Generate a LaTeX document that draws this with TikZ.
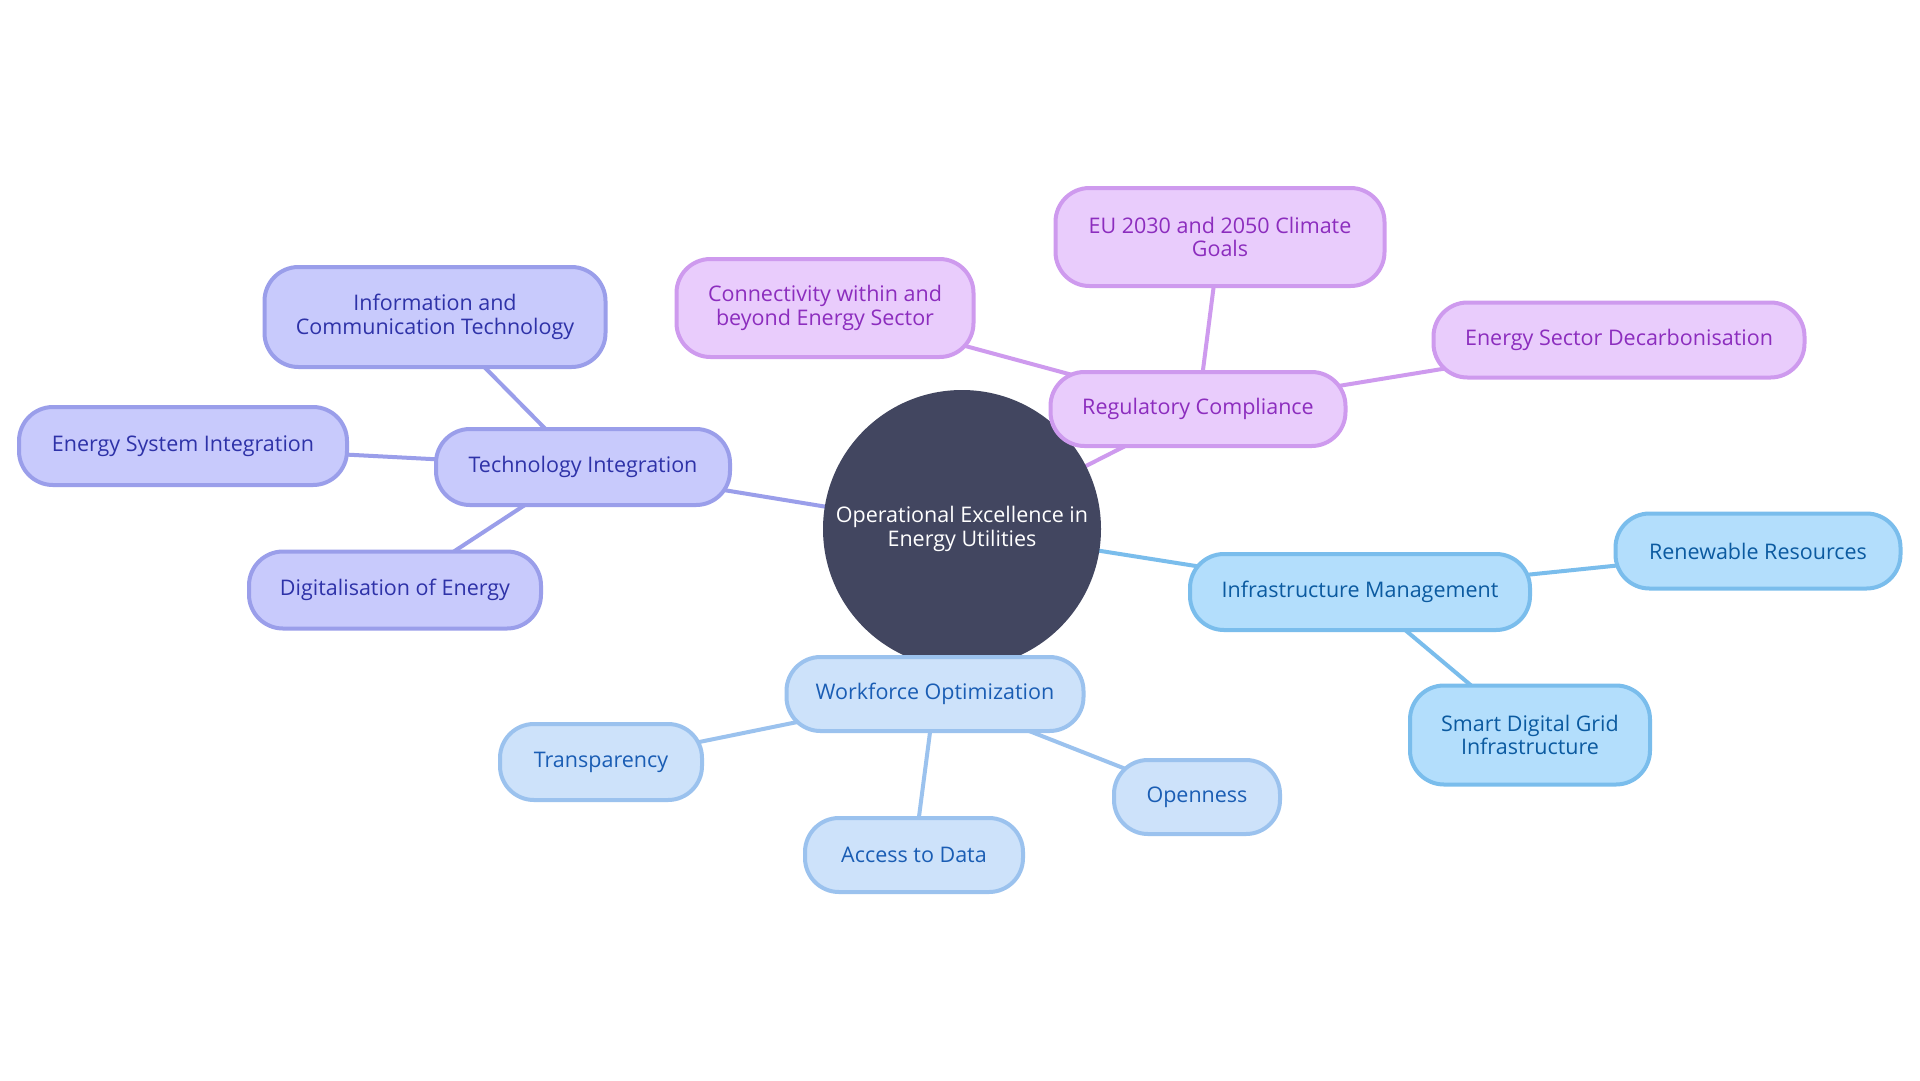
\documentclass[tikz,border=0pt]{standalone}
\usepackage{fontspec}
\setmainfont{Open Sans}
\usetikzlibrary{backgrounds}
\definecolor{core}{HTML}{424660}
\definecolor{tfill}{HTML}{C8CAFC}\definecolor{tline}{HTML}{9A9EEA}\definecolor{ttext}{HTML}{2E32A8}
\definecolor{rfill}{HTML}{E9CCFC}\definecolor{rline}{HTML}{CE9AEE}\definecolor{rtext}{HTML}{8C2DBE}
\definecolor{ifill}{HTML}{B3DEFC}\definecolor{iline}{HTML}{7ABDEC}\definecolor{itext}{HTML}{0B5AA0}
\definecolor{wfill}{HTML}{CDE2FA}\definecolor{wline}{HTML}{9BC2EE}\definecolor{wtext}{HTML}{1A5DB4}
\begin{document}
\begin{tikzpicture}[x=1pt,y=-1pt,
  box/.style={draw, line width=4pt, rounded corners=34pt, align=center,
    font=\fontsize{21.5}{23.5}\selectfont, inner sep=0pt},
  tbox/.style={box, fill=tfill, draw=tline, text=ttext},
  rbox/.style={box, fill=rfill, draw=rline, text=rtext},
  ibox/.style={box, fill=ifill, draw=iline, text=itext},
  wbox/.style={box, fill=wfill, draw=wline, text=wtext},
  link/.style={line width=4pt}]
\useasboundingbox (0,0) rectangle (1920,1080);
\node[circle, fill=core, text=white, minimum size=278pt, inner sep=0pt, align=center,
  font=\fontsize{21.5}{23.5}\selectfont] (core) at (962,529) {Operational Excellence in\\Energy Utilities};

\node[tbox, minimum width=294pt, minimum height=76pt] (tech) at (583,467) {Technology Integration};
\node[tbox, minimum width=341pt, minimum height=100pt] (ict) at (435,317) {Information and\\Communication Technology};
\node[tbox, minimum width=328pt, minimum height=78pt] (esi) at (183,446) {Energy System Integration};
\node[tbox, minimum width=292pt, minimum height=77pt] (dig) at (395,590) {Digitalisation of Energy};

\node[rbox, minimum width=295pt, minimum height=74pt] (reg) at (1198,409) {Regulatory Compliance};
\node[rbox, minimum width=329pt, minimum height=98pt] (eu) at (1220,237) {EU 2030 and 2050 Climate\\Goals};
\node[rbox, minimum width=297pt, minimum height=98pt] (conn) at (825,308) {Connectivity within and\\beyond Energy Sector};
\node[rbox, minimum width=371pt, minimum height=75pt] (dec) at (1619,340) {Energy Sector Decarbonisation};

\node[ibox, minimum width=340pt, minimum height=76pt] (infra) at (1360,592) {Infrastructure Management};
\node[ibox, minimum width=285pt, minimum height=75pt] (ren) at (1758,551) {Renewable Resources};
\node[ibox, minimum width=240pt, minimum height=99pt] (grid) at (1530,735) {Smart Digital Grid\\Infrastructure};

\node[wbox, minimum width=297pt, minimum height=74pt] (work) at (935,694) {Workforce Optimization};
\node[wbox, minimum width=202pt, minimum height=76pt] (trans) at (601,762) {Transparency};
\node[wbox, minimum width=218pt, minimum height=74pt] (acc) at (914,855) {Access to Data};
\node[wbox, minimum width=166pt, minimum height=74pt] (open) at (1197,797) {Openness};

\begin{pgfonlayer}{background}
\fill[white] (0,0) rectangle (1920,1080);
\draw[link, tline] (core.center) -- (tech.center);
\draw[link, tline] (tech.center) -- (ict.center);
\draw[link, tline] (tech.center) -- (esi.center);
\draw[link, tline] (tech.center) -- (dig.center);
\draw[link, rline] (core.center) -- (reg.center);
\draw[link, rline] (reg.center) -- (eu.center);
\draw[link, rline] (reg.center) -- (conn.center);
\draw[link, rline] (reg.center) -- (dec.center);
\draw[link, iline] (core.center) -- (infra.center);
\draw[link, iline] (infra.center) -- (ren.center);
\draw[link, iline] (infra.center) -- (grid.center);
\draw[link, wline] (core.center) -- (work.center);
\draw[link, wline] (work.center) -- (trans.center);
\draw[link, wline] (work.center) -- (acc.center);
\draw[link, wline] (work.center) -- (open.center);
\end{pgfonlayer}
\end{tikzpicture}
\end{document}
